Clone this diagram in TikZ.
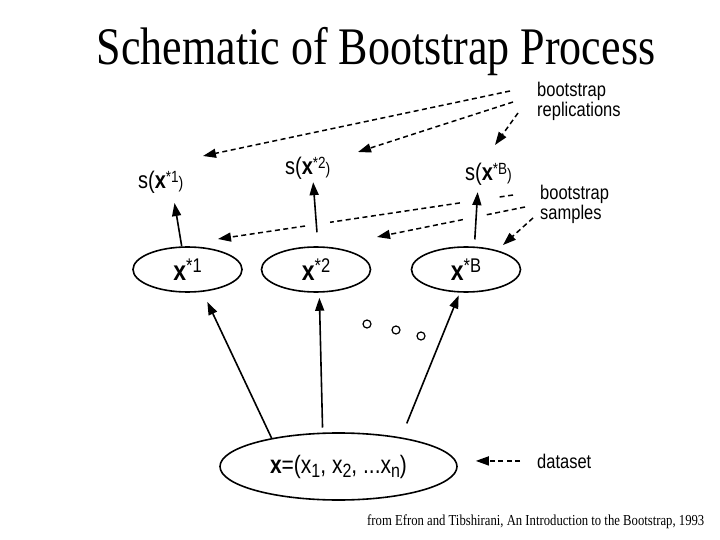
\documentclass[tikz,border=0pt]{standalone}
\usepackage{fontspec}
\setmainfont{Liberation Serif}
\newfontfamily\hv{Liberation Sans}
\usetikzlibrary{arrows.meta,shapes.geometric,calc}
\newcommand\vs[1]{\scalebox{1}[1.2]{#1}}
\newcommand\ssup[1]{\raisebox{5pt}{\fontsize{13.5}{13.5}\selectfont #1}}
\newcommand\esup[1]{\raisebox{6.5pt}{\fontsize{16.5}{16.5}\selectfont #1}}
\newcommand\dsub[1]{\raisebox{-4pt}{\fontsize{16}{16}\selectfont #1}}
\newcommand\spar{{\fontsize{14}{14}\selectfont )}}
\begin{document}
\begin{tikzpicture}[x=1pt,y=-1pt,
  ell/.style={draw, ellipse, line width=1.6pt, inner sep=0pt},
  solidarr/.style={line width=1.6pt, -{Triangle[length=13pt,width=9pt]}},
  dasharr/.style={line width=1.5pt, dash pattern=on 5pt off 3.5pt, -{Triangle[length=13pt,width=9pt]}},
  dashline/.style={line width=1.5pt, dash pattern=on 5pt off 3.5pt},
  slab/.style={anchor=base west, inner sep=0pt, font=\hv\fontsize{20}{20}\selectfont},
  note/.style={anchor=base west, inner sep=0pt, font=\hv\fontsize{16.5}{14.5}\selectfont},
  dot/.style={draw, circle, line width=1.2pt, minimum size=8pt, inner sep=0pt}]
\useasboundingbox (0,0) rectangle (720,540);

% title and source
\node[anchor=base, inner sep=0pt] (title) at (376,65) {\vs{\fontsize{44}{44}\selectfont Schematic of Bootstrap Process}};
\node[anchor=base west, inner sep=0pt] (src) at (367,525) {\vs{\fontsize{12.7}{12.7}\selectfont from Efron and Tibshirani, An Introduction to the Bootstrap, 1993}};

% ellipses
\node[ell, minimum width=109pt, minimum height=45pt] (e1) at (187.5,269.5) {\vs{\hv\fontsize{23}{23}\selectfont\textbf{x}\esup{*1}}};
\node[ell, minimum width=109pt, minimum height=45pt] (e2) at (316,269.5) {\vs{\hv\fontsize{23}{23}\selectfont\textbf{x}\esup{*2}}};
\node[ell, minimum width=109pt, minimum height=45pt] (eB) at (466,269.5) {\vs{\hv\fontsize{23}{23}\selectfont\textbf{x}\esup{*B}}};
\node[ell, minimum width=237pt, minimum height=67pt] (D) at (338.5,466.5) {\vs{\hv\fontsize{21}{21}\selectfont\textbf{x}=(x\dsub{1}, x\dsub{2}, ...x\dsub{n})}};

% statistic labels
\node[slab] (s1) at (138,189) {\vs{s(\textbf{x}\ssup{*1}\spar}};
\node[slab] (s2) at (285,175) {\vs{s(\textbf{x}\ssup{*2}\spar}};
\node[slab] (sB) at (465,181) {\vs{s(\textbf{x}\ssup{*B}\spar}};

% notes
\node[note] (rep) at (537,97) {\vs{\begin{tabular}[t]{@{}l@{}}bootstrap\\replications\end{tabular}}};
\node[note] (smp) at (540,200) {\vs{\begin{tabular}[t]{@{}l@{}}bootstrap\\samples\end{tabular}}};
\node[note] (ds) at (537,468) {\vs{dataset}};

% dots
\node[dot] (o1) at (367,324) {};
\node[dot] (o2) at (396,330) {};
\node[dot] (o3) at (421,336) {};

% solid arrows: samples -> statistics
\draw[solidarr, shorten >=9pt] (e1.104) -- ([xshift=35pt]s1.south west);
\draw[solidarr, shorten <=14pt, shorten >=2pt] (e2.85) -- ([xshift=28pt]s2.south west);
\draw[solidarr, shorten <=7pt, shorten >=6pt] (eB.70) -- ([xshift=13pt]sB.south west);

% solid arrows: dataset -> samples
\draw[solidarr, shorten >=11pt] (D.157) -- (e1.-56);
\draw[solidarr, shorten <=5pt, shorten >=5pt] (D.115) -- (e2.-82);
\draw[solidarr, shorten <=15pt, shorten >=3pt] (D.25) -- (eB.-105);

% dashed arrows: replications
\coordinate (r1a) at (510,91);  \coordinate (r1b) at (203,156);
\coordinate (r2a) at (513,102); \coordinate (r2b) at (358,152);
\coordinate (r3a) at (518,113); \coordinate (r3b) at (495,145);
\draw[dasharr] (r1a) -- (r1b);
\draw[dasharr] (r2a) -- (r2b);
\draw[dasharr] (r3a) -- (r3b);

% dashed arrows: samples
\coordinate (p1a) at (513,195); \coordinate (p1b) at (218,239);
\coordinate (p2a) at (525,207); \coordinate (p2b) at (377,237);
\coordinate (p3a) at (533,218); \coordinate (p3b) at (503,245);
\draw[dashline] (p1a) -- ($(p1a)!0.055!(p1b)$);
\draw[dashline] ($(p1a)!0.18!(p1b)$) -- ($(p1a)!0.62!(p1b)$);
\draw[dasharr] ($(p1a)!0.705!(p1b)$) -- (p1b);
\draw[dashline] (p2a) -- ($(p2a)!0.27!(p2b)$);
\draw[dasharr] ($(p2a)!0.42!(p2b)$) -- (p2b);
\draw[dasharr] (p3a) -- (p3b);

% dataset arrow
\draw[dasharr, shorten <=17pt, shorten >=18pt] (ds.west) -- (D.east |- ds.west);
\end{tikzpicture}
\end{document}
